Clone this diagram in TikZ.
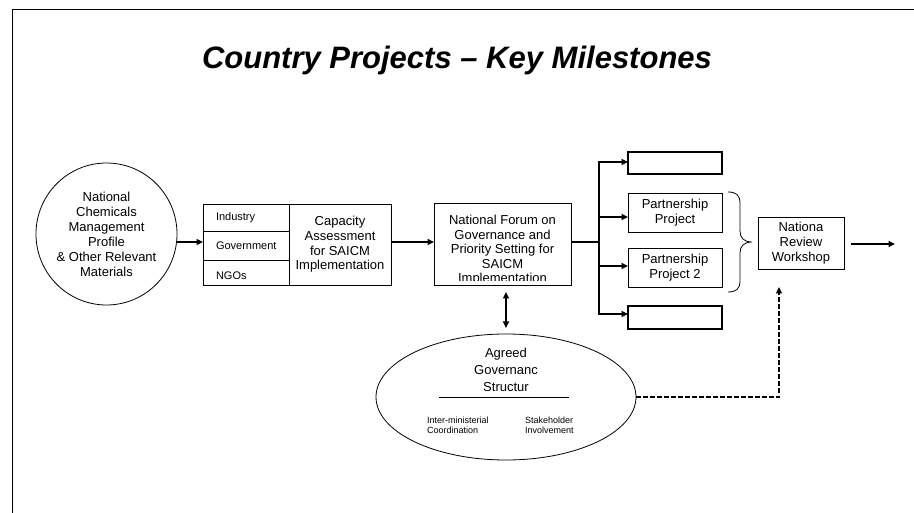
\documentclass[tikz,border=0pt]{standalone}
\usepackage{fontspec}
\setmainfont{Liberation Sans}
\usetikzlibrary{arrows.meta,shapes.geometric}
\begin{document}
\begin{tikzpicture}[x=1pt,y=-1pt,
  every node/.style={inner sep=0pt, outer sep=0pt},
  txt/.style={align=center, font=\fontsize{13}{15}\selectfont},
  small/.style={anchor=west, font=\fontsize{11}{13}\selectfont},
  tiny/.style={anchor=west, align=left, font=\fontsize{9}{10.5}\selectfont},
  boxed/.style={draw, line width=0.8pt, txt},
  blank/.style={draw, line width=1.3pt, minimum width=94pt},
  conn/.style={line width=1.8pt, -{Triangle[length=6.5pt,width=6pt]}},
  bus/.style={line width=1.8pt},
  twoway/.style={line width=1.8pt, {Triangle[length=6.5pt,width=6pt]}-{Triangle[length=6.5pt,width=6pt]}},
  feedback/.style={line width=1.3pt, dash pattern=on 4.5pt off 2.5pt, -{Triangle[length=6.5pt,width=6pt]}}
]
\useasboundingbox (0,0) rectangle (914,513);

% slide frame
\draw[line width=1.3pt] (12.3,513) -- (12.3,9.3) -- (914,9.3);

% title
\node[anchor=base, font=\fontsize{31}{36}\selectfont\bfseries\itshape] (title) at (457,69)
  {Country Projects -- Key Milestones};

% starting profile
\node[draw, ellipse, line width=0.8pt, minimum width=135pt, minimum height=142pt, txt] (profile) at (106.5,234)
  {National\\Chemicals\\Management\\Profile\\\& Other Relevant\\Materials};

% stakeholder groups and capacity assessment
\node[draw, line width=0.8pt, minimum width=86pt, minimum height=81pt, anchor=north west] (groups) at (203,204) {};
\draw[line width=0.8pt] (groups.west |- 0,231) -- (groups.east |- 0,231);
\draw[line width=0.8pt] (groups.west |- 0,260) -- (groups.east |- 0,260);
\node[small] (industry) at (216,217.5) {Industry};
\node[small] (government) at (216,246) {Government};
\node[small] (ngos) at (216,276) {NGOs};
\node[boxed, minimum width=102pt, minimum height=81pt, anchor=north west,
      font=\fontsize{13}{14.6}\selectfont] (capacity) at (289,204)
  {Capacity\\Assessment\\for SAICM\\Implementation};

% national forum (text runs past the bottom of its frame)
\node[draw, line width=0.8pt, minimum width=137pt, minimum height=82pt, anchor=north west] (forum) at (434,203) {};
\begin{scope}
  \clip (434,203) rectangle (571,280.5);
  \node[anchor=north, align=center, font=\fontsize{13}{14.5}\selectfont] (forumtext) at (502.5,215.2)
    {National Forum on\\Governance and\\Priority Setting for\\SAICM\\Implementation};
\end{scope}

% projects
\node[blank, minimum height=22pt, anchor=north west] (top) at (628,152) {};
\node[boxed, minimum width=94pt, minimum height=39pt, anchor=north west] (proj1) at (628,193) {Partnership\\Project};
\node[boxed, minimum width=94pt, minimum height=39pt, anchor=north west] (proj2) at (628,248) {Partnership\\Project 2};
\node[blank, minimum height=23pt, anchor=north west] (bottom) at (628,306) {};

% review workshop
\node[boxed, minimum width=86pt, minimum height=52pt, anchor=north west] (review) at (758,217) {Nationa\\Review\\Workshop};

% governance structure
\node[draw, ellipse, line width=0.8pt, minimum width=260pt, minimum height=126pt] (gov) at (506,397) {};
\node[align=center, font=\fontsize{13}{17}\selectfont] (govtitle) at (506,370) {Agreed\\Governanc\\Structur};
\draw[line width=0.8pt] (439,397) -- (569,397);
\node[tiny] (inter) at (427,425.5) {Inter-ministerial\\Coordination};
\node[tiny] (stakeh) at (525,425.5) {Stakeholder\\Involvement};

% main flow
\coordinate (row) at (0,242);
\draw[conn] (profile.east |- row) -- (groups.west |- row);
\draw[conn] (capacity.east |- row) -- (forum.west |- row);

% branching to projects
\coordinate (split) at (599,242);
\coordinate (b1) at (599,162);
\coordinate (b2) at (599,217);
\coordinate (b3) at (599,266);
\coordinate (b4) at (599,314);
\draw[bus] (forum.east |- row) -- (split);
\draw[bus] ([yshift=0.9pt]b1) -- ([yshift=-0.9pt]b4);
\draw[conn] (b1) -- (b1 -| top.west);
\draw[conn] (b2) -- (b2 -| proj1.west);
\draw[conn] (b3) -- (b3 -| proj2.west);
\draw[conn] (b4) -- (b4 -| bottom.west);

% brace grouping the partnership projects
\draw[line width=0.8pt] (728,192) .. controls (736,192) and (740,195) .. (740,203)
  -- (740,231) .. controls (740,238) and (744,242) .. (752,242)
  .. controls (744,242) and (740,246) .. (740,253)
  -- (740,281) .. controls (740,289) and (736,292) .. (728,292);

% outgoing arrow
\coordinate (onward) at (895,244);
\draw[conn] (851,244) -- (onward);

% forum <-> governance
\coordinate (da) at (506,292);
\coordinate (db) at (506,328);
\draw[twoway] (da) -- (db);

% governance feeds the review
\coordinate (fb) at (779,287);
\draw[feedback] (gov.east) -| (fb);

\end{tikzpicture}
\end{document}
